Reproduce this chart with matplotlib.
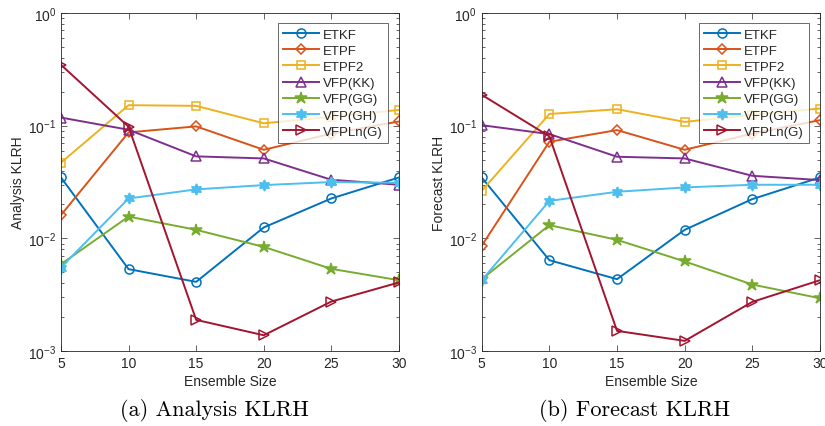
import matplotlib
matplotlib.use("Agg")
import matplotlib.pyplot as plt
from matplotlib.ticker import LogLocator, NullFormatter

plt.rcParams['font.family'] = ['Liberation Sans', 'DejaVu Sans']

ens = [5, 10, 15, 20, 25, 30]
names = ['ETKF', 'ETPF', 'ETPF2', 'VFP(KK)', 'VFP(GG)', 'VFP(GH)', 'VFPLn(G)']

# analysis KLRH
ana_etkf = [0.0347, 0.00533, 0.00411, 0.0125, 0.0226, 0.0347]
ana_etpf = [0.0161, 0.0872, 0.0986, 0.0611, 0.085, 0.109]
ana_etpf2 = [0.0469, 0.152, 0.150, 0.105, 0.120, 0.138]
ana_kk = [0.118, 0.092, 0.0534, 0.0512, 0.0331, 0.0299]
ana_gg = [0.0059, 0.0156, 0.0119, 0.0084, 0.00536, 0.00425]
ana_gh = [0.00551, 0.0226, 0.0272, 0.0297, 0.0316, 0.0311]
ana_ln = [0.347, 0.0978, 0.00189, 0.00138, 0.00275, 0.00406]

# forecast KLRH
fc_etkf = [0.0347, 0.0064, 0.00434, 0.0119, 0.0223, 0.0347]
fc_etpf = [0.0086, 0.072, 0.0914, 0.0611, 0.085, 0.112]
fc_etpf2 = [0.0264, 0.127, 0.140, 0.108, 0.125, 0.142]
fc_kk = [0.101, 0.0842, 0.053, 0.0512, 0.0359, 0.0329]
fc_gg = [0.00434, 0.0131, 0.0097, 0.00624, 0.00389, 0.00294]
fc_gh = [0.00425, 0.0215, 0.0259, 0.0283, 0.0299, 0.0299]
fc_ln = [0.188, 0.0804, 0.00151, 0.00123, 0.00273, 0.00425]

analysis = [ana_etkf, ana_etpf, ana_etpf2, ana_kk, ana_gg, ana_gh, ana_ln]
forecast = [fc_etkf, fc_etpf, fc_etpf2, fc_kk, fc_gg, fc_gh, fc_ln]

colors = ['#0072BD', '#D95319', '#EDB120', '#7E2F8E', '#77AC30', '#4DBEEE', '#A2142F']
markers = ['o', 'D', 's', '^', '*', (6, 1, 0), '>']
msizes = [6.5, 5, 5.5, 7, 9, 8, 7]
filled = [False, False, False, False, True, True, False]

txt = '#262626'

fig = plt.figure(figsize=(8.25, 4.27), dpi=100)
ax1 = fig.add_axes([0.0739, 0.1756, 0.4097, 0.7916])
ax2 = fig.add_axes([0.5839, 0.1756, 0.4100, 0.7916])


def draw(ax, data, ylabel, caption):
    for i, d in enumerate(data):
        ax.plot(ens, d, color=colors[i], marker=markers[i], ms=msizes[i],
                mfc=colors[i] if filled[i] else 'none', mew=1.1, lw=1.4,
                label=names[i])
    ax.set_yscale('log')
    ax.set_xlim(5, 30)
    ax.set_ylim(1e-3, 1)
    ax.set_xticks(ens)
    ax.yaxis.set_major_locator(LogLocator(base=10, numticks=10))
    ax.yaxis.set_minor_locator(LogLocator(base=10, subs=range(2, 10), numticks=20))
    ax.yaxis.set_minor_formatter(NullFormatter())
    ax.tick_params(which='both', direction='in', top=True, right=True,
                   colors=txt, labelsize=10, width=0.5)
    ax.tick_params(which='major', length=4)
    ax.tick_params(which='minor', length=2.5)
    for s in ax.spines.values():
        s.set_color(txt)
        s.set_linewidth(0.6)
    ax.set_xlabel('Ensemble Size', fontsize=10, color=txt, labelpad=3)
    ax.set_ylabel(ylabel, fontsize=10, color=txt, labelpad=2)
    leg = ax.legend(loc='upper right', bbox_to_anchor=(0.967, 0.970),
                    borderaxespad=0, fancybox=False, fontsize=9.5,
                    handlelength=2.7, labelspacing=0.3, borderpad=0.4,
                    handletextpad=0.3)
    leg.get_frame().set_edgecolor(txt)
    leg.get_frame().set_linewidth(0.6)
    for t in leg.get_texts():
        t.set_color(txt)
    ax.text(0.453, -0.172, caption, transform=ax.transAxes, ha='center',
            va='center', fontsize=16, family='cmr10')


draw(ax1, analysis, 'Analysis KLRH', '(a) Analysis KLRH')
draw(ax2, forecast, 'Forecast KLRH', '(b) Forecast KLRH')

fig.savefig('out.png', dpi=100)
